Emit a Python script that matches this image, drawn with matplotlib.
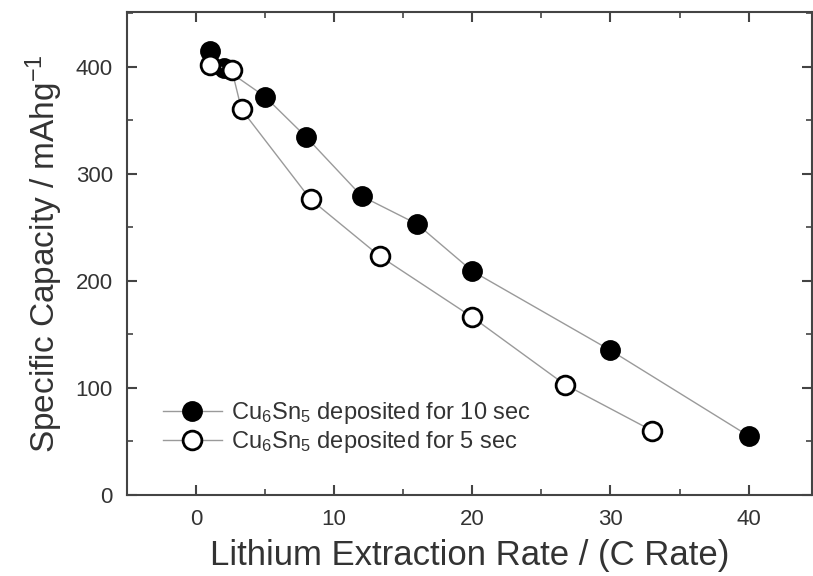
import numpy as np
import matplotlib
matplotlib.use("Agg")
import matplotlib.pyplot as plt
from matplotlib.ticker import MultipleLocator

plt.rcParams['font.family'] = ['Liberation Sans', 'DejaVu Sans']
plt.rcParams['mathtext.default'] = 'regular'

# data
rate_10s = [1.0, 2.0, 5.0, 8.0, 12.0, 16.0, 20.0, 30.0, 40.0]
cap_10s = [415, 399, 372, 334, 279, 253, 209, 135, 55]

rate_5s = [1.0, 2.6, 3.3, 8.3, 13.3, 20.0, 26.7, 33.0]
cap_5s = [402, 397, 360, 276, 223, 166, 103, 60]

label_10s = 'Cu$_6$Sn$_5$ deposited for 10 sec'
label_5s = 'Cu$_6$Sn$_5$ deposited for 5 sec'

fig = plt.figure(figsize=(8.13, 5.76), dpi=100)
fig.patch.set_facecolor('white')
ax = fig.add_axes([0.156, 0.141, 0.843, 0.838])

line_c = '#9a9a9a'
ax.plot(rate_10s, cap_10s, '-', c=line_c, lw=1, marker='o', ms=13.5,
        mfc='black', mec='black', mew=1.5, label=label_10s, zorder=3)
ax.plot(rate_5s, cap_5s, '-', c=line_c, lw=1, marker='o', ms=13.5,
        mfc='white', mec='black', mew=2, label=label_5s, zorder=3)

ax.set_xlim(-5, 44.6)
ax.set_ylim(0, 451)
ax.xaxis.set_major_locator(MultipleLocator(10))
ax.xaxis.set_minor_locator(MultipleLocator(5))
ax.yaxis.set_major_locator(MultipleLocator(100))
ax.yaxis.set_minor_locator(MultipleLocator(50))

for s in ax.spines.values():
    s.set_color('#444444')
    s.set_linewidth(1.5)
ax.tick_params(axis='both', which='major', direction='in', length=7, width=1.5,
               color='#444444', labelcolor='#333333', labelsize=16,
               top=True, right=True, pad=10)
ax.tick_params(axis='both', which='minor', direction='in', length=4, width=1.2,
               color='#444444', top=True, right=True)

ax.set_xlabel('Lithium Extraction Rate / (C Rate)', fontsize=25, color='#333333', labelpad=7)
ax.set_ylabel('Specific Capacity / mAhg$^{-1}$', fontsize=24, color='#333333', labelpad=8)

leg = ax.legend(loc='upper left', bbox_to_anchor=(0.035, 0.22), frameon=False,
                fontsize=17, handlelength=2.5, handletextpad=0.4, labelspacing=0.12,
                borderpad=0)
for t in leg.get_texts():
    t.set_color('#333333')

fig.savefig('out.png', dpi=100)
